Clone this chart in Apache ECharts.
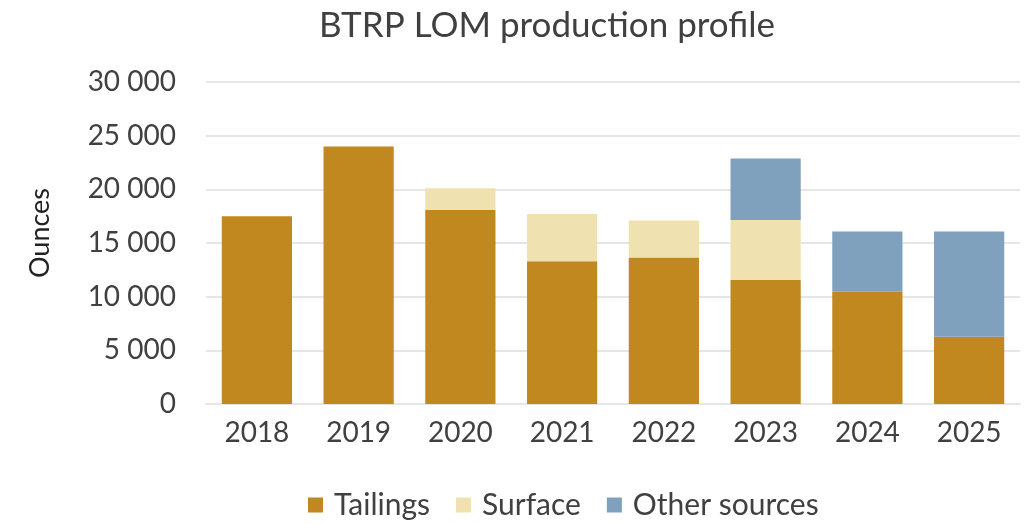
<!DOCTYPE html>
<html>
<head>
<meta charset="utf-8">
<script src="https://cdn.jsdelivr.net/npm/echarts@6/dist/echarts.min.js"></script>
<style>
  html, body { margin: 0; padding: 0; background: #fff; }
  #chart { width: 1025px; height: 525px; }
</style>
</head>
<body>
<div id="chart"></div>
<script>
// data
const years = ["2018", "2019", "2020", "2021", "2022", "2023", "2024", "2025"];
const tailings = [17500, 24000, 18100, 13300, 13650, 11550, 10450, 6270];
const surface = [0, 0, 2000, 4400, 3450, 5600, 0, 0];
const otherSources = [0, 0, 0, 0, 0, 5720, 5630, 9810];

const font = "Lato";
const myChart = echarts.init(document.getElementById("chart"));

// y labels use a space as thousands separator
const fmt = (v) => String(v).replace(/\B(?=(\d{3})+(?!\d))/g, " ");

const option = {
  animation: false,
  title: {
    text: "BTRP LOM production profile",
    left: 314,
    top: 3,
    textStyle: { fontFamily: font, fontSize: 35, fontWeight: "normal", color: "#404040" },
  },
  grid: { left: 206, right: 5, top: 82, bottom: 121 },
  legend: {
    bottom: 0,
    left: 303,
    itemWidth: 15,
    itemHeight: 15,
    itemGap: 26,
    icon: "rect",
    textStyle: { fontFamily: font, fontSize: 30, color: "#404040", padding: [0, 0, 0, 6] },
    data: ["Tailings", "Surface", "Other sources"],
  },
  xAxis: {
    type: "category",
    data: years,
    axisTick: { show: false },
    axisLine: { lineStyle: { color: "#e6e6e6", width: 2 } },
    axisLabel: { fontFamily: font, fontSize: 28, color: "#404040", margin: 15 },
  },
  yAxis: {
    type: "value",
    min: 0,
    max: 30000,
    interval: 5000,
    name: "Ounces",
    nameLocation: "middle",
    nameGap: 152,
    nameRotate: 90,
    nameTextStyle: { fontFamily: font, fontSize: 27, color: "#222", padding: [0, 0, 0, 20] },
    axisLabel: { fontFamily: font, fontSize: 28, color: "#404040", margin: 30, formatter: fmt },
    splitLine: { lineStyle: { color: "#e6e6e6", width: 2 } },
  },
  series: [
    { name: "Tailings", type: "bar", stack: "a", barWidth: "69%", data: tailings, itemStyle: { color: "#C0881E" } },
    { name: "Surface", type: "bar", stack: "a", data: surface, itemStyle: { color: "#EFE2B0" } },
    { name: "Other sources", type: "bar", stack: "a", data: otherSources, itemStyle: { color: "#7FA1BE" } },
  ],
};

myChart.setOption(option);
</script>
</body>
</html>
